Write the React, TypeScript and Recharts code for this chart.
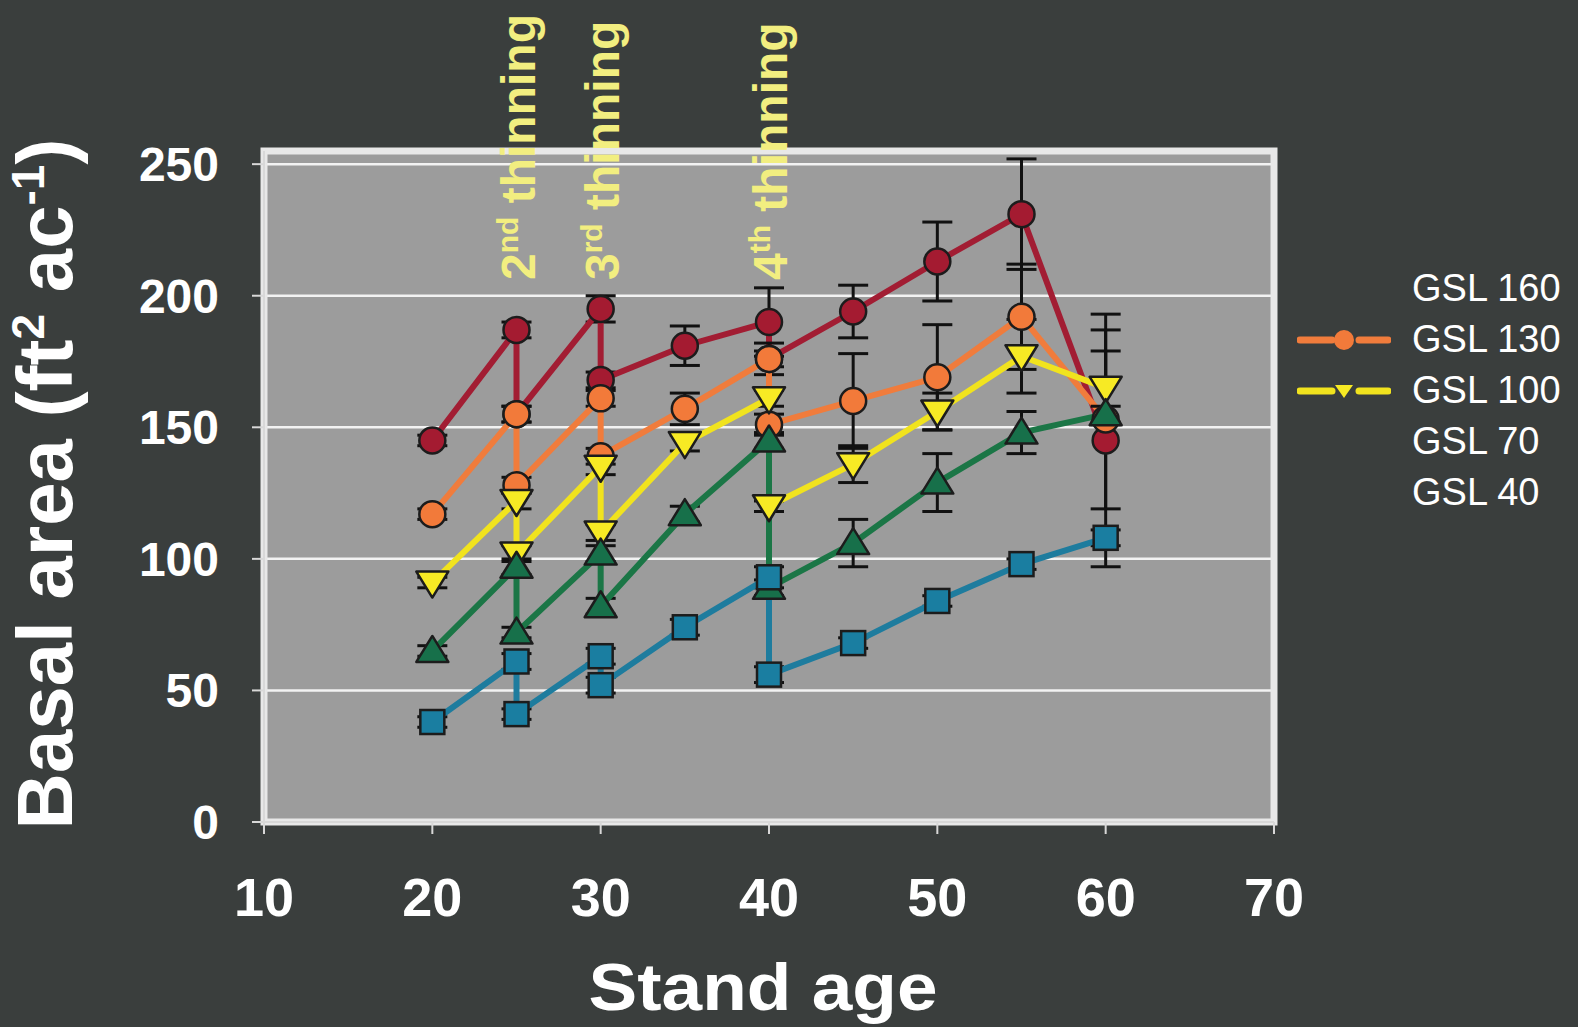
import React from 'react';
import { LineChart, Line, XAxis, YAxis, CartesianGrid, ErrorBar, ReferenceLine, ReferenceArea, Legend } from 'recharts';

// stand ages; 25, 30 and 40 appear twice (before / after thinning)
const ages = [20, 25, 25, 30, 30, 35, 40, 40, 45, 50, 55, 60];

const gsl160 = [145, 187, 155, 195, 168, 181, 190, 176, 194, 213, 231, 145];
const gsl130 = [117, 155, 128, 161, 139, 157, 176, 151, 160, 169, 192, 153];
const gsl100 = [91, 122, 102, 135, 110, 144, 161, 120, 136, 156, 177, 165];
const gsl70 = [65, 97, 72, 102, 82, 117, 145, 89, 106, 129, 148, 155];
const gsl40 = [38, 61, 41, 63, 52, 74, 93, 56, 68, 84, 98, 108];

const err160 = [2, 3, 3, 5, 3, 7.5, 13, 3, 10, 15, 21, 48];
const err130 = [2, 3, 3, 3, 3, 6, 6, 4, 18, 20, 20, 34];
const err100 = [2, 3, 3, 3, 3, 3, 3, 2, 7, 7, 14, 14];
const err70 = [2, 3, 2, 3, 3, 3, 3, 3, 9, 11, 8, 3];
const err40 = [2, 3, 2, 3, 3, 3, 4, 3, 2, 2, 2, 3];

const xTicks = [10, 20, 30, 40, 50, 60, 70];
const yTicks = [0, 50, 100, 150, 200, 250];

const thinnings = [
    { age: 25, num: '2', sup: 'nd' },
    { age: 30, num: '3', sup: 'rd' },
    { age: 40, num: '4', sup: 'th' },
];

const FONT = "'Liberation Sans', Arial, Helvetica, sans-serif";
const BG = '#3a3e3d';
const OUTLINE = '#1c1c1c';

type Shape = 'circle' | 'down' | 'up' | 'square';

const series: { name: string; key: string; err: string; line: string; fill: string; shape: Shape; icon: boolean }[] = [
    { name: 'GSL 160', key: 'g160', err: 'e160', line: '#a21d33', fill: '#a41b31', shape: 'circle', icon: false },
    { name: 'GSL 130', key: 'g130', err: 'e130', line: '#f07c3c', fill: '#f27a3a', shape: 'circle', icon: true },
    { name: 'GSL 100', key: 'g100', err: 'e100', line: '#f1e31e', fill: '#f7ea24', shape: 'down', icon: true },
    { name: 'GSL 70', key: 'g70', err: 'e70', line: '#1b7646', fill: '#17704a', shape: 'up', icon: false },
    { name: 'GSL 40', key: 'g40', err: 'e40', line: '#1e7c9e', fill: '#1a7ea1', shape: 'square', icon: false },
];

const data = ages.map((age, i) => ({
    age,
    g160: gsl160[i], e160: err160[i],
    g130: gsl130[i], e130: err130[i],
    g100: gsl100[i], e100: err100[i],
    g70: gsl70[i], e70: err70[i],
    g40: gsl40[i], e40: err40[i],
}));

function makeDot(shape: Shape, fill: string, id: string) {
    return (p: any) => {
        const { cx, cy, index } = p;
        const k = `${id}-${index}`;
        if (cx == null || cy == null) return <g key={k} />;
        if (shape === 'circle') {
            return <circle key={k} cx={cx} cy={cy} r={13} fill={fill} stroke={OUTLINE} strokeWidth={2.5} />;
        }
        if (shape === 'down') {
            return (
                <polygon key={k} points={`${cx - 16},${cy - 11} ${cx + 16},${cy - 11} ${cx},${cy + 15}`}
                    fill={fill} stroke={OUTLINE} strokeWidth={2.5} strokeLinejoin="round" />
            );
        }
        if (shape === 'up') {
            return (
                <polygon key={k} points={`${cx - 16},${cy + 11} ${cx + 16},${cy + 11} ${cx},${cy - 15}`}
                    fill={fill} stroke={OUTLINE} strokeWidth={2.5} strokeLinejoin="round" />
            );
        }
        return <rect key={k} x={cx - 12} y={cy - 12} width={24} height={24} fill={fill} stroke={OUTLINE} strokeWidth={2.5} />;
    };
}

function ThinLabel(props: any) {
    const { viewBox, num, sup } = props;
    if (!viewBox) return null;
    const x = viewBox.x + 18;
    const y = 280;
    return (
        <text x={x} y={y} transform={`rotate(-90, ${x}, ${y})`} fill="#f2ee80" fontFamily={FONT}
            fontWeight={700} fontSize={48} textAnchor="start">
            {num}
            <tspan dy={-17} fontSize={30}>{sup}</tspan>
            <tspan dy={17}> thinning</tspan>
        </text>
    );
}

function YTitle() {
    const x = 72;
    const y = 484;
    return (
        <text x={x} y={y} transform={`rotate(-90, ${x}, ${y})`} fill="#fff" fontFamily={FONT}
            fontWeight={700} fontSize={78} textAnchor="middle">
            Basal area (ft
            <tspan dy={-28} fontSize={46}>2</tspan>
            <tspan dy={28}> ac</tspan>
            <tspan dy={-28} fontSize={46}>-1</tspan>
            <tspan dy={28}>)</tspan>
        </text>
    );
}

function XTitle() {
    return (
        <text x={763} y={1010} fill="#fff" fontFamily={FONT} fontWeight={700} fontSize={66}
            textAnchor="middle" textLength={349} lengthAdjust="spacingAndGlyphs">
            Stand age
        </text>
    );
}

function GslLegend() {
    return (
        <div style={{ fontFamily: FONT, color: '#fff', fontSize: 38 }}>
            {series.map((s) => (
                <div key={s.name} style={{ display: 'flex', alignItems: 'center', height: 51 }}>
                    <svg width={94} height={30} style={{ marginRight: 21, flex: 'none' }}>
                        {s.icon && (
                            <g>
                                <line x1={3} y1={15} x2={35} y2={15} stroke={s.line} strokeWidth={7} strokeLinecap="round" />
                                <line x1={62} y1={15} x2={91} y2={15} stroke={s.line} strokeWidth={7} strokeLinecap="round" />
                                {s.shape === 'circle' ? (
                                    <circle cx={47} cy={15} r={10} fill={s.fill} />
                                ) : (
                                    <polygon points="38,9 56,9 47,22" fill={s.fill} />
                                )}
                            </g>
                        )}
                    </svg>
                    <span style={{ whiteSpace: 'nowrap' }}>{s.name}</span>
                </div>
            ))}
        </div>
    );
}

export default function App() {
    return (
        <div style={{ position: 'fixed', left: 0, top: 0, width: 1578, height: 1027, background: BG }}>
            <LineChart width={1578} height={1027} data={data} margin={{ top: 151, right: 304, bottom: 0, left: 144 }}>
                <CartesianGrid vertical={false} stroke="#f2f2f2" strokeWidth={2.5} fill="#9c9c9c" fillOpacity={1} />
                <XAxis
                    dataKey="age"
                    type="number"
                    domain={[10, 70]}
                    ticks={xTicks}
                    allowDataOverflow
                    height={205}
                    tickSize={12}
                    tickMargin={44}
                    axisLine={{ stroke: '#d8d8d8', strokeWidth: 2 }}
                    tickLine={{ stroke: '#d8d8d8', strokeWidth: 2 }}
                    tick={{ fill: '#fff', fontSize: 54, fontWeight: 700, fontFamily: FONT }}
                    label={<XTitle />}
                />
                <YAxis
                    type="number"
                    domain={[0, 255]}
                    ticks={yTicks}
                    allowDataOverflow
                    width={120}
                    tickSize={12}
                    tickMargin={33}
                    axisLine={{ stroke: '#d8d8d8', strokeWidth: 2 }}
                    tickLine={{ stroke: '#d8d8d8', strokeWidth: 2 }}
                    tick={{ fill: '#fff', fontSize: 48, fontWeight: 700, fontFamily: FONT }}
                    label={<YTitle />}
                />
                <ReferenceArea x1={10} x2={70} y1={0} y2={255} fill="none" stroke="#e8e8e8" strokeWidth={7} ifOverflow="visible" />
                {series.map((s) => (
                    <Line
                        key={s.key}
                        type="linear"
                        dataKey={s.key}
                        name={s.name}
                        stroke={s.line}
                        strokeWidth={6}
                        dot={makeDot(s.shape, s.fill, s.key)}
                        activeDot={false}
                        legendType="none"
                        isAnimationActive={false}
                    >
                        <ErrorBar dataKey={s.err} direction="y" width={15} stroke="#111" strokeWidth={3} />
                    </Line>
                ))}
                {thinnings.map((t) => (
                    <ReferenceLine
                        key={t.age}
                        x={t.age}
                        stroke="none"
                        ifOverflow="visible"
                        label={<ThinLabel num={t.num} sup={t.sup} />}
                    />
                ))}
                <Legend
                    layout="horizontal"
                    verticalAlign="middle"
                    align="center"
                    content={() => <GslLegend />}
                    wrapperStyle={{ left: 1297, top: 263, width: 281 }}
                />
            </LineChart>
        </div>
    );
}
